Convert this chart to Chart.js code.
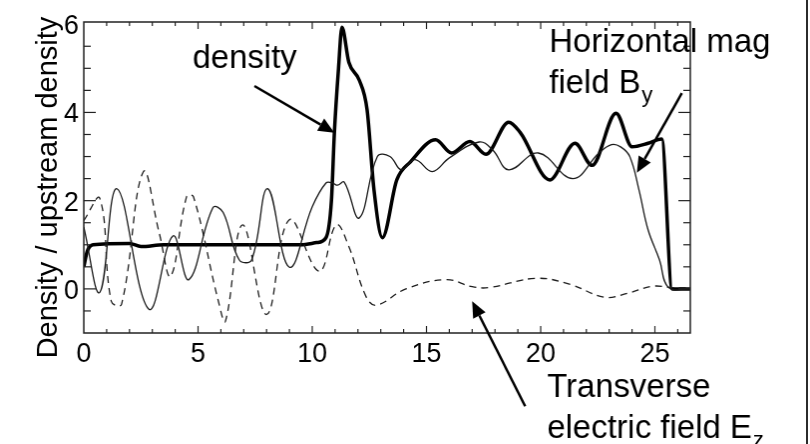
<!DOCTYPE html>
<html>
<head>
<meta charset="utf-8">
<script src="https://cdn.jsdelivr.net/npm/chart.js@4.4.1/dist/chart.umd.min.js"></script>
<style>
  html, body { margin: 0; padding: 0; background: #fff; }
  #wrap { width: 810px; height: 444px; position: relative; }
  #plot { display: block; border-right: 2px solid #2b2b2b; }
</style>
</head>
<body>
<div id="wrap"><canvas id="plot" width="808" height="444"></canvas></div>
<script>
// density (thick line)
const densityX = [0, 0.15, 0.4, 2.0, 2.5, 3.5, 9.5, 10.2, 10.6, 10.84, 10.97, 11.15, 11.3, 11.6, 12.06, 12.4, 12.7, 13.07, 13.7, 14.3, 15.4, 16.1, 16.9, 17.6, 18.6, 19.1, 20.4, 21.5, 22.25, 23.3, 24.0, 24.7, 25.3, 25.75, 26.55];
const densityY = [0.5, 0.85, 1.0, 1.03, 0.96, 1.0, 1.0, 1.05, 1.16, 2.0, 3.55, 5.0, 5.93, 5.14, 4.73, 4.06, 2.25, 1.16, 2.47, 2.88, 3.38, 3.08, 3.34, 3.05, 3.78, 3.55, 2.47, 3.3, 2.8, 3.98, 3.22, 3.3, 3.4, 0, 0];

// horizontal mag field By (thin line)
const byX = [0, 0.7, 1.45, 2.85, 3.9, 4.6, 5.65, 6.1, 6.8, 7.35, 8.05, 9.0, 10.0, 10.6, 10.9, 11.1, 11.4, 12.06, 12.85, 13.4, 13.9, 14.5, 15.25, 16.0, 17.3, 17.9, 18.6, 19.9, 21.4, 22.55, 23.1, 23.5, 23.9, 24.3, 24.7, 25.2, 25.6, 26.55];
const byY = [1.4, -0.08, 2.27, -0.46, 1.2, 0.21, 1.84, 1.73, 0.66, 0.66, 2.27, 0.49, 1.86, 2.4, 2.4, 2.35, 2.42, 1.61, 3.0, 3.0, 2.7, 2.93, 2.66, 2.97, 3.33, 3.15, 2.7, 3.08, 2.5, 3.08, 3.27, 3.22, 3.0, 2.25, 1.34, 0.66, 0.03, 0];

// transverse electric field Ez (dashed)
const ezX = [0, 0.7, 1.2, 1.65, 2.6, 3.3, 3.8, 4.5, 4.8, 5.9, 6.2, 6.95, 8.0, 9.0, 10.3, 11.05, 11.6, 12.35, 12.8, 14.1, 15.85, 17.0, 17.75, 19.8, 21.3, 22.8, 23.8, 24.9, 25.75, 26.55];
const ezY = [1.55, 2.05, -0.28, -0.35, 2.65, 1.27, 0.29, 2.09, 2.09, -0.3, -0.73, 1.45, -0.58, 1.57, 0.4, 1.45, 0.96, -0.17, -0.37, 0.0, 0.21, 0.05, 0.03, 0.24, 0.1, -0.19, -0.1, 0.06, 0.03, 0.03];

const xTicks = [0, 5, 10, 15, 20, 25];
const yTicks = [0, 2, 4, 6];
const yTitle = 'Density / upstream density';

const pts = (xs, ys) => xs.map((x, i) => ({x: x, y: ys[i]}));

const FONT = '"Liberation Sans", Arial, sans-serif';

// notes: text + arrows, placed in data units
const notes = [
  {lines: [['density', '']], x: 4.76, y: 5.0, from: [7.47, 4.6], to: [10.97, 3.54]},
  {lines: [['Horizontal mag', ''], ['field B', 'y']], x: 20.37, y: 5.37, from: [26.18, 4.44], to: [24.21, 2.63]},
  {lines: [['Transverse', ''], ['electric field E', 'z']], x: 20.28, y: -2.45, from: [19.32, -2.66], to: [17.0, -0.28]}
];

const decor = {
  id: 'decor',
  afterDraw(chart) {
    const {ctx, chartArea: a, scales: {x, y}} = chart;
    ctx.save();
    ctx.strokeStyle = '#222';
    ctx.lineWidth = 1.5;
    ctx.strokeRect(a.left, a.top, a.right - a.left, a.bottom - a.top);

    const seg = (x1, y1, x2, y2) => { ctx.beginPath(); ctx.moveTo(x1, y1); ctx.lineTo(x2, y2); ctx.stroke(); };
    ctx.lineWidth = 1.2;
    for (let v = 1; v <= 26; v++) {
      const px = x.getPixelForValue(v);
      const len = v % 5 === 0 ? 7 : 4;
      seg(px, a.bottom, px, a.bottom - len);
      seg(px, a.top, px, a.top + len);
    }
    for (let v = -0.5; v <= 5.5; v += 0.5) {
      const py = y.getPixelForValue(v);
      const len = v % 2 === 0 ? 12 : 7;
      seg(a.left, py, a.left + len, py);
      seg(a.right, py, a.right - len, py);
    }

    // tick labels
    ctx.fillStyle = '#000';
    ctx.font = '27px ' + FONT;
    ctx.textBaseline = 'alphabetic';
    ctx.textAlign = 'center';
    xTicks.forEach(v => ctx.fillText(String(v), x.getPixelForValue(v), a.bottom + 29));
    ctx.textAlign = 'right';
    yTicks.forEach(v => ctx.fillText(String(v), a.left - 5, y.getPixelForValue(v) + 10));

    // y title
    ctx.font = '29px ' + FONT;
    ctx.textAlign = 'center';
    ctx.save();
    ctx.translate(a.left - 27, (a.top + a.bottom) / 2 + 10);
    ctx.rotate(-Math.PI / 2);
    ctx.fillText(yTitle, 0, 0);
    ctx.restore();

    // notes
    ctx.textAlign = 'left';
    notes.forEach(n => {
      let bx = x.getPixelForValue(n.x);
      let by = y.getPixelForValue(n.y);
      n.lines.forEach((ln, i) => {
        const yy = by + i * 41;
        ctx.font = '33px ' + FONT;
        ctx.fillText(ln[0], bx, yy);
        if (ln[1]) {
          const w = ctx.measureText(ln[0]).width;
          ctx.font = '22px ' + FONT;
          ctx.fillText(ln[1], bx + w + 1, yy + 9);
        }
      });
      const x1 = x.getPixelForValue(n.from[0]), y1 = y.getPixelForValue(n.from[1]);
      const x2 = x.getPixelForValue(n.to[0]), y2 = y.getPixelForValue(n.to[1]);
      const ang = Math.atan2(y2 - y1, x2 - x1);
      const hl = 16, hw = 7;
      ctx.strokeStyle = '#000';
      ctx.lineWidth = 2.5;
      seg(x1, y1, x2 - Math.cos(ang) * hl, y2 - Math.sin(ang) * hl);
      ctx.beginPath();
      ctx.moveTo(x2, y2);
      ctx.lineTo(x2 - Math.cos(ang) * hl - Math.sin(ang) * hw, y2 - Math.sin(ang) * hl + Math.cos(ang) * hw);
      ctx.lineTo(x2 - Math.cos(ang) * hl + Math.sin(ang) * hw, y2 - Math.sin(ang) * hl - Math.cos(ang) * hw);
      ctx.closePath();
      ctx.fill();
    });
    ctx.restore();
  }
};

new Chart(document.getElementById('plot'), {
  type: 'line',
  data: {
    datasets: [{
      label: 'Transverse electric field Ez',
      data: pts(ezX, ezY),
      borderColor: '#1e1e1e',
      borderWidth: 1.3,
      borderDash: [7, 5],
      tension: 0.4,
      pointRadius: 0
    }, {
      label: 'Horizontal mag field By',
      data: pts(byX, byY),
      borderColor: '#1a1a1a',
      borderWidth: 1.3,
      tension: 0.4,
      pointRadius: 0
    }, {
      label: 'density',
      data: pts(densityX, densityY),
      borderColor: '#000',
      borderWidth: 3.5,
      cubicInterpolationMode: 'monotone',
      pointRadius: 0
    }]
  },
  plugins: [decor],
  options: {
    responsive: false,
    animation: false,
    layout: {padding: {left: 0, right: 116, top: 22, bottom: 0}},
    plugins: {legend: {display: false}, tooltip: {enabled: false}},
    scales: {
      x: {
        type: 'linear',
        min: 0,
        max: 26.55,
        grid: {display: false, drawTicks: false},
        border: {display: false},
        afterBuildTicks: s => { s.ticks = xTicks.map(v => ({value: v})); },
        afterFit: s => { s.height = 111; },
        ticks: {display: false}
      },
      y: {
        min: -1,
        max: 6.05,
        grid: {display: false, drawTicks: false},
        border: {display: false},
        afterBuildTicks: s => { s.ticks = yTicks.map(v => ({value: v})); },
        afterFit: s => { s.width = 84; },
        ticks: {display: false}
      }
    }
  }
});
</script>
</body>
</html>
